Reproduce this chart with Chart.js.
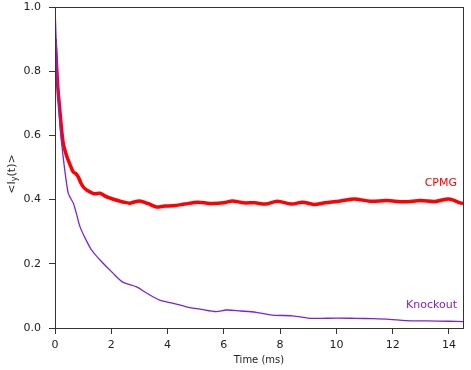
<!DOCTYPE html>
<html>
<head>
<meta charset="utf-8">
<script src="https://cdn.jsdelivr.net/npm/chart.js@4"></script>
<style>
    html, body { margin: 0; padding: 0; background: #fff; }
    #wrap { width: 471px; height: 370px; }
</style>
</head>
<body>
<div id="wrap"><canvas id="myChart"></canvas></div>
<script>
// values
const cpmgTime = [0, 0.03, 0.06, 0.1, 0.18, 0.29, 0.4, 0.47, 0.55, 0.65, 0.75, 0.83, 0.92, 1.0, 1.12, 1.24, 1.4, 1.6, 1.8, 1.95, 2.2, 2.45, 2.66, 3.0, 3.3, 3.6, 3.9, 4.2, 4.6, 5.07, 5.5, 6.0, 6.3, 6.7, 7.1, 7.5, 7.9, 8.4, 8.8, 9.2, 9.6, 10.1, 10.64, 11.2, 11.8, 12.4, 13.0, 13.5, 14.0, 14.4, 14.5];
const cpmgValues = [0.9, 0.86, 0.81, 0.75, 0.67, 0.576, 0.54, 0.523, 0.505, 0.486, 0.48, 0.47, 0.452, 0.44, 0.43, 0.424, 0.418, 0.42, 0.41, 0.405, 0.398, 0.392, 0.389, 0.396, 0.388, 0.377, 0.38, 0.381, 0.386, 0.392, 0.388, 0.39, 0.396, 0.39, 0.39, 0.386, 0.395, 0.386, 0.392, 0.385, 0.39, 0.395, 0.402, 0.395, 0.397, 0.393, 0.397, 0.394, 0.402, 0.39, 0.388];

const knockoutTime = [0, 0.02, 0.06, 0.1, 0.18, 0.29, 0.38, 0.47, 0.55, 0.65, 0.75, 0.89, 1.1, 1.3, 1.6, 2.06, 2.41, 2.9, 3.25, 3.72, 4.2, 4.67, 5.2, 5.73, 6.09, 6.6, 7.15, 7.73, 8.44, 9.15, 10.0, 10.7, 11.3, 11.88, 12.47, 13.2, 14.0, 14.5];
const knockoutValues = [1.0, 0.95, 0.85, 0.76, 0.626, 0.533, 0.47, 0.42, 0.405, 0.389, 0.36, 0.315, 0.275, 0.243, 0.212, 0.171, 0.143, 0.128, 0.109, 0.087, 0.077, 0.066, 0.058, 0.051, 0.056, 0.053, 0.049, 0.04, 0.038, 0.030, 0.031, 0.030, 0.029, 0.027, 0.023, 0.022, 0.021, 0.020];

const xTicks = [0, 2, 4, 6, 8, 10, 12, 14];
const yTicks = [0.0, 0.2, 0.4, 0.6, 0.8, 1.0];

const RED = '#ff0000';
const PURPLE = '#7a22dc';
const FONT = '"DejaVu Sans", sans-serif';

function toPoints(xs, ys) {
    return xs.map((x, i) => ({ x: x, y: ys[i] }));
}

// frame box, series labels and the y title with subscript
const decorations = {
    id: 'decorations',
    afterDraw(chart) {
        const { ctx, chartArea: a, scales } = chart;
        ctx.save();
        ctx.strokeStyle = '#333';
        ctx.lineWidth = 1;
        ctx.strokeRect(a.left + 0.5, a.top + 0.5, a.right - a.left, a.bottom - a.top);

        ctx.font = '11px ' + FONT;
        ctx.textAlign = 'right';
        ctx.textBaseline = 'middle';
        ctx.fillStyle = RED;
        ctx.fillText('CPMG', 457, scales.y.getPixelForValue(0.45));
        ctx.fillStyle = PURPLE;
        ctx.fillText('Knockout', 457, scales.y.getPixelForValue(0.07));

        // rotated "<I_y(t)>"
        ctx.translate(12, 174);
        ctx.rotate(-Math.PI / 2);
        ctx.fillStyle = '#222';
        ctx.textAlign = 'left';
        const a1 = '<I', a2 = 'y', a3 = '(t)>';
        ctx.font = '11px ' + FONT;
        const w1 = ctx.measureText(a1).width;
        const w3 = ctx.measureText(a3).width;
        ctx.font = '8px ' + FONT;
        const w2 = ctx.measureText(a2).width;
        let x = -(w1 + w2 + w3) / 2;
        ctx.font = '11px ' + FONT;
        ctx.fillText(a1, x, 0);
        x += w1;
        ctx.font = '8px ' + FONT;
        ctx.fillText(a2, x, 3);
        x += w2;
        ctx.font = '11px ' + FONT;
        ctx.fillText(a3, x, 0);
        ctx.restore();
    }
};

function renderChart() {
    const ctx = document.getElementById('myChart').getContext('2d');
    return new Chart(ctx, {
        type: 'line',
        data: {
            datasets: [{
                label: 'Knockout',
                data: toPoints(knockoutTime, knockoutValues),
                borderColor: PURPLE,
                borderWidth: 1.3,
                pointRadius: 0,
                tension: 0.3
            }, {
                label: 'CPMG',
                data: toPoints(cpmgTime, cpmgValues),
                borderColor: RED,
                borderWidth: 3.5,
                pointRadius: 0,
                tension: 0.3
            }]
        },
        options: {
            responsive: true,
            maintainAspectRatio: false,
            animation: false,
            layout: { padding: { left: 0, top: 7, right: 8, bottom: 0 } },
            plugins: { legend: { display: false }, tooltip: { enabled: false } },
            scales: {
                x: {
                    type: 'linear',
                    min: 0,
                    max: 14.5,
                    afterFit: (s) => { s.height = 42; s.paddingLeft = 0; s.paddingRight = 0; },
                    afterBuildTicks: (s) => { s.ticks = xTicks.map(v => ({ value: v })); },
                    grid: { drawOnChartArea: false, color: '#333', tickLength: 6, tickColor: '#333' },
                    border: { color: '#333' },
                    ticks: { color: '#222', font: { family: FONT, size: 11 }, padding: 5, maxRotation: 0 },
                    title: { display: true, text: 'Time (ms)', color: '#222', font: { family: FONT, size: 10 }, padding: { top: 0 } }
                },
                y: {
                    min: 0,
                    max: 1,
                    afterFit: (s) => { s.width = 55; s.paddingTop = 0; s.paddingBottom = 0; },
                    afterBuildTicks: (s) => { s.ticks = yTicks.map(v => ({ value: v })); },
                    grid: { drawOnChartArea: false, color: '#333', tickLength: 6, tickColor: '#333' },
                    border: { color: '#333' },
                    ticks: { color: '#222', font: { family: FONT, size: 11 }, padding: 8,
                        callback: (v) => v.toFixed(1) }
                }
            }
        },
        plugins: [decorations]
    });
}

renderChart();
</script>
</body>
</html>
